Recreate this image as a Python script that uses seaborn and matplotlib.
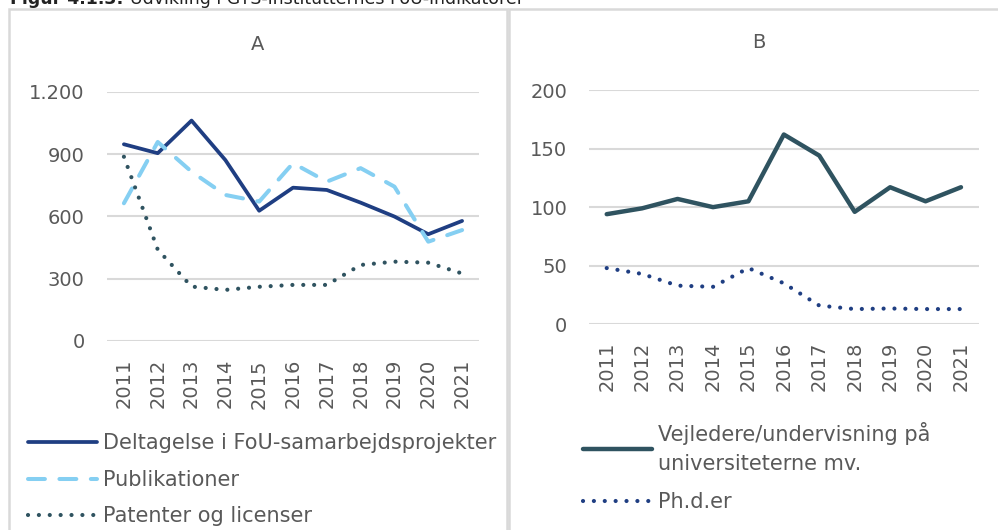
import matplotlib
matplotlib.use('Agg')
import matplotlib.pyplot as plt
import seaborn as sns
from matplotlib.patches import Rectangle

sns.set_theme(style='white')
plt.rcParams['font.family'] = ['DejaVu Sans']

years = [2011, 2012, 2013, 2014, 2015, 2016, 2017, 2018, 2019, 2020, 2021]

# Panel A
deltagelse = [947, 904, 1061, 871, 627, 738, 727, 666, 599, 514, 578]
publikationer = [663, 958, 815, 703, 671, 856, 767, 832, 743, 478, 534]
patenter = [887, 440, 262, 246, 261, 270, 270, 366, 382, 377, 325]

# Panel B
vejledere = [94, 99, 107, 100, 105, 162, 144, 96, 117, 105, 117]
phd = [48, 43, 33, 32, 48, 35, 16, 13, 13.5, 13, 13]

navy = '#1F3E82'
light_blue = '#85CFF2'
slate = '#2F5360'
grid_col = '#D9D9D9'
text_col = '#595959'

fig = plt.figure(figsize=(9.98, 5.30), dpi=100)

# panel frames
fig.patches.append(Rectangle((9 / 998, -0.1), 498 / 998, 1.1 - 9.5 / 530, transform=fig.transFigure,
                             fill=False, edgecolor=grid_col, lw=1.8))
fig.patches.append(Rectangle((508.5 / 998, -0.1), 495 / 998, 1.1 - 9.5 / 530, transform=fig.transFigure,
                             fill=False, edgecolor=grid_col, lw=1.8))

# cut-off caption at the very top
fig.text(10 / 998, 1 - 4.5 / 530, 'Figur 4.1.3:', fontsize=12.5, fontweight='bold', color='#222222',
         va='baseline')
fig.text(130 / 998, 1 - 4.5 / 530, 'Udvikling i GTS-institutternes FoU-indikatorer', fontsize=12.5,
         color='#222222', va='baseline')

ax1 = fig.add_axes([107 / 998, 1 - 341 / 530, 372 / 998, 249.3 / 530])
ax2 = fig.add_axes([589 / 998, 1 - 324.3 / 530, 389.7 / 998, 234.3 / 530])

sns.lineplot(x=years, y=deltagelse, ax=ax1, color=navy, lw=2.7, solid_capstyle='round',
             label='Deltagelse i FoU-samarbejdsprojekter')
sns.lineplot(x=years, y=publikationer, ax=ax1, color=light_blue, lw=2.9,
             label='Publikationer')
ax1.lines[-1].set_dashes([4.2, 3.6])
ax1.lines[-1].set_dash_capstyle('round')
sns.lineplot(x=years, y=patenter, ax=ax1, color=slate, lw=3.0,
             label='Patenter og licenser')
ax1.lines[-1].set_dashes([0.01, 2.6])
ax1.lines[-1].set_dash_capstyle('round')

sns.lineplot(x=years, y=vejledere, ax=ax2, color=slate, lw=3.2, solid_capstyle='round',
             label='Vejledere/undervisning på\nuniversiteterne mv.')
sns.lineplot(x=years, y=phd, ax=ax2, color=navy, lw=3.0, label='Ph.d.er')
ax2.lines[-1].set_dashes([0.01, 2.6])
ax2.lines[-1].set_dash_capstyle('round')

for ax, top, step, ypad, xpad in [(ax1, 1200, 300, 16, 13), (ax2, 200, 50, 15.5, 12.5)]:
    ax.set_xlim(2010.5, 2021.5)
    ax.set_ylim(0, top)
    ax.set_yticks(range(0, top + 1, step))
    ax.set_yticklabels([f'{v:,}'.replace(',', '.') for v in range(0, top + 1, step)])
    ax.set_xticks(years)
    ax.set_xticklabels([str(y) for y in years], rotation=90)
    ax.grid(axis='y', color=grid_col, lw=1.5)
    ax.set_axisbelow(True)
    for s in ax.spines.values():
        s.set_visible(False)
    ax.tick_params(axis='both', length=0, labelsize=14, labelcolor=text_col)
    ax.tick_params(axis='y', pad=ypad)
    ax.tick_params(axis='x', pad=xpad)
    ax.set_facecolor('none')
    ax.legend_.remove()

fig.text(258 / 998, 1 - 44 / 530, 'A', fontsize=14, color=text_col, ha='center', va='center')
fig.text(759 / 998, 1 - 43 / 530, 'B', fontsize=14, color=text_col, ha='center', va='center')

h1, l1 = ax1.get_legend_handles_labels()
fig.legend(h1, l1, loc='upper left', bbox_to_anchor=(20 / 998, 1 - 425 / 530), frameon=False,
           fontsize=15, labelcolor=text_col, handlelength=3.3, handletextpad=0.3,
           labelspacing=0.79, borderaxespad=0)
h2, l2 = ax2.get_legend_handles_labels()
leg2 = fig.legend(h2, l2, loc='upper left', bbox_to_anchor=(575 / 998, 1 - 414 / 530), frameon=False,
                  fontsize=15, labelcolor=text_col, handlelength=3.3, handletextpad=0.3,
                  labelspacing=0.85, borderaxespad=0)
leg2.get_texts()[0].set_linespacing(1.55)

fig.savefig('out.png', dpi=100, facecolor='white')
